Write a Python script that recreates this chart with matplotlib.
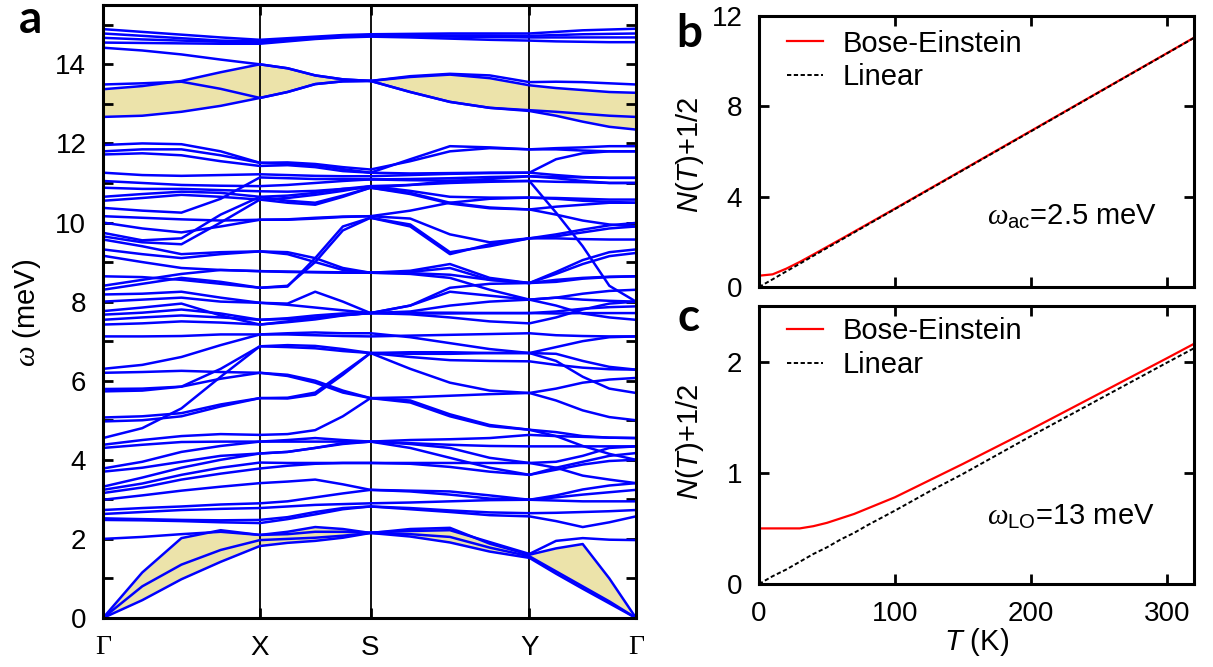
import numpy as np
import matplotlib.pyplot as plt

plt.rcParams['font.family'] = ['Liberation Sans', 'DejaVu Sans']
plt.rcParams['mathtext.fontset'] = 'custom'
plt.rcParams['mathtext.rm'] = 'Liberation Sans'
plt.rcParams['mathtext.it'] = 'Liberation Serif:italic'
plt.rcParams['mathtext.sf'] = 'Liberation Sans:italic'

# ---- panel a: phonon dispersion along Γ-X-S-Y-Γ ----
k_nodes = [0.0, 1.56, 2.66, 4.24, 5.30]
k_labels = ['Γ', 'X', 'S', 'Y', 'Γ']

# each band: 17 values, 5 per segment (node, 3 inner points), shared nodes
acoustic = [
    [0, 0.45, 0.98, 1.42, 1.82, 1.90, 1.95, 2.03, 2.15, 2.06, 1.91, 1.68, 1.52, 1.12, 0.74, 0.37, 0],
    [0, 0.80, 1.35, 1.72, 1.97, 2.00, 2.03, 2.08, 2.15, 2.12, 2.05, 1.78, 1.56, 1.18, 0.80, 0.42, 0],
    [0, 1.15, 2.02, 2.22, 2.10, 2.18, 2.30, 2.25, 2.15, 2.25, 2.28, 1.88, 1.60, 1.76, 1.87, 1.00, 0],
]
optical_low = [
    [2.00, 2.05, 2.12, 2.18, 2.10, 2.12, 2.18, 2.18, 2.16, 2.20, 2.22, 1.92, 1.62, 1.95, 2.02, 1.98, 1.97],
    [2.48, 2.47, 2.45, 2.42, 2.40, 2.50, 2.62, 2.75, 2.82, 2.75, 2.68, 2.60, 2.57, 2.45, 2.30, 2.42, 2.57],
    [2.52, 2.50, 2.48, 2.47, 2.48, 2.55, 2.68, 2.78, 2.82, 2.78, 2.72, 2.67, 2.65, 2.66, 2.68, 2.70, 2.73],
    [2.63, 2.68, 2.73, 2.76, 2.78, 2.82, 2.86, 2.88, 2.90, 2.92, 2.95, 2.98, 2.99, 2.97, 2.95, 2.95, 2.95],
    [2.73, 2.78, 2.82, 2.87, 2.90, 2.95, 3.05, 3.15, 3.24, 3.20, 3.12, 3.02, 2.99, 3.05, 3.12, 3.18, 3.24],
    [2.99, 3.10, 3.22, 3.32, 3.41, 3.45, 3.50, 3.38, 3.24, 3.22, 3.20, 3.10, 2.99, 3.10, 3.25, 3.35, 3.41],
    [3.16, 3.30, 3.50, 3.65, 3.78, 3.85, 3.90, 3.92, 3.92, 3.92, 3.92, 3.92, 3.92, 3.80, 3.60, 3.50, 3.41],
    [3.24, 3.40, 3.62, 3.80, 3.93, 3.92, 3.92, 3.92, 3.92, 3.90, 3.82, 3.70, 3.62, 3.80, 3.95, 4.10, 4.17],
    [3.32, 3.55, 3.80, 4.00, 4.16, 4.20, 4.30, 4.40, 4.46, 4.30, 4.05, 3.80, 3.62, 3.75, 3.88, 3.97, 4.00],
    [3.70, 3.80, 3.95, 4.10, 4.16, 4.20, 4.30, 4.42, 4.46, 4.42, 4.38, 4.35, 4.34, 4.34, 4.34, 4.34, 4.34],
    [3.78, 3.95, 4.20, 4.35, 4.46, 4.46, 4.46, 4.46, 4.46, 4.50, 4.52, 4.55, 4.63, 4.60, 4.58, 4.56, 4.55],
    [4.30, 4.38, 4.45, 4.46, 4.46, 4.50, 4.55, 4.50, 4.46, 4.40, 4.30, 4.05, 3.92, 3.95, 4.10, 4.30, 4.34],
    [4.38, 4.50, 4.60, 4.65, 4.63, 4.65, 4.75, 5.10, 5.56, 5.45, 5.10, 4.85, 4.76, 4.70, 4.60, 4.56, 4.55],
    [4.55, 4.80, 5.30, 6.10, 6.87, 6.85, 6.82, 6.75, 6.70, 6.72, 6.72, 6.70, 6.70, 6.85, 7.00, 7.10, 7.12],
    [4.97, 5.00, 5.10, 5.35, 5.56, 5.55, 5.65, 6.15, 6.70, 6.30, 5.95, 5.75, 5.69, 5.80, 5.95, 6.03, 6.07],
    [5.07, 5.10, 5.18, 5.40, 5.56, 5.57, 5.70, 6.20, 6.70, 6.60, 6.52, 6.50, 6.49, 6.40, 6.33, 6.29, 6.28],
    [5.73, 5.75, 5.85, 6.05, 6.20, 6.15, 6.00, 5.75, 5.56, 5.50, 5.15, 4.88, 4.76, 4.60, 4.35, 4.15, 4.00],
    [5.79, 5.80, 5.85, 6.30, 6.87, 6.90, 6.88, 6.80, 6.70, 6.68, 6.68, 6.70, 6.70, 6.50, 6.10, 5.80, 5.69],
    [6.20, 6.22, 6.25, 6.22, 6.20, 6.12, 5.95, 5.70, 5.56, 5.58, 5.62, 5.66, 5.69, 5.50, 5.25, 5.08, 5.00],
    [6.30, 6.40, 6.60, 6.90, 7.17, 7.17, 7.15, 7.13, 7.12, 7.14, 7.16, 7.18, 7.20, 7.15, 7.13, 7.12, 7.12],
    [7.12, 7.12, 7.13, 7.17, 7.17, 7.20, 7.22, 7.20, 7.20, 7.10, 6.95, 6.80, 6.70, 6.68, 6.50, 6.35, 6.28],
]
optical_mid = [
    [7.42, 7.45, 7.50, 7.47, 7.42, 7.48, 7.55, 7.65, 7.71, 7.72, 7.72, 7.71, 7.71, 7.70, 7.71, 7.71, 7.71],
    [7.54, 7.60, 7.65, 7.60, 7.54, 7.56, 7.60, 7.66, 7.71, 7.90, 8.25, 8.15, 8.05, 8.10, 8.20, 8.27, 8.30],
    [7.67, 7.72, 7.80, 7.70, 7.54, 7.58, 7.65, 7.70, 7.71, 7.90, 8.35, 8.45, 8.47, 8.50, 8.58, 8.62, 8.64],
    [7.76, 7.85, 7.95, 7.65, 7.42, 7.50, 7.58, 7.66, 7.71, 7.70, 7.70, 7.71, 7.71, 7.75, 7.82, 7.86, 7.88],
    [8.00, 8.05, 8.10, 8.00, 7.97, 7.95, 8.25, 8.00, 7.71, 7.75, 7.90, 8.00, 8.05, 7.90, 7.70, 7.60, 7.54],
    [8.18, 8.20, 8.25, 8.10, 7.97, 7.92, 7.85, 7.78, 7.71, 7.68, 7.60, 7.50, 7.45, 7.60, 7.80, 7.95, 8.00],
    [8.30, 8.45, 8.60, 8.50, 8.35, 8.40, 9.00, 9.80, 10.12, 9.95, 9.25, 9.40, 9.60, 9.70, 9.82, 9.93, 9.99],
    [8.40, 8.55, 8.70, 8.80, 8.77, 8.76, 8.75, 8.74, 8.73, 8.78, 8.95, 8.60, 8.47, 8.70, 8.95, 9.15, 9.23],
    [8.64, 8.62, 8.55, 8.45, 8.35, 8.38, 9.10, 9.90, 10.12, 9.90, 9.20, 9.45, 9.60, 9.60, 9.58, 9.57, 9.57],
    [9.16, 9.00, 8.85, 8.80, 8.77, 8.75, 8.74, 8.73, 8.73, 8.72, 8.68, 8.55, 8.47, 8.55, 8.60, 8.63, 8.64],
    [9.32, 9.20, 9.10, 9.20, 9.27, 9.25, 9.10, 8.85, 8.73, 8.75, 8.85, 8.55, 8.47, 8.75, 9.05, 9.25, 9.32],
    [9.57, 9.40, 9.20, 9.25, 9.27, 9.20, 9.00, 8.80, 8.73, 8.70, 8.60, 8.30, 8.05, 8.10, 8.05, 8.02, 8.00],
    [9.65, 9.50, 9.45, 10.00, 10.58, 10.50, 10.45, 10.65, 10.88, 10.75, 10.50, 10.38, 10.33, 10.40, 10.45, 10.50, 10.50],
    [9.74, 9.55, 9.60, 10.20, 10.65, 10.55, 10.50, 10.68, 10.88, 10.72, 10.48, 10.36, 10.33, 10.20, 10.05, 9.95, 9.90],
    [10.00, 9.85, 9.75, 9.90, 10.07, 10.07, 10.10, 10.14, 10.16, 10.30, 10.50, 10.60, 10.63, 10.62, 10.60, 10.58, 10.58],
    [10.16, 10.12, 10.08, 10.05, 10.07, 10.08, 10.12, 10.15, 10.16, 10.10, 9.70, 9.50, 9.60, 9.65, 9.75, 9.85, 9.90],
    [10.37, 10.30, 10.25, 10.60, 11.14, 11.12, 11.10, 11.10, 11.09, 11.07, 11.06, 11.05, 11.05, 10.25, 9.40, 8.40, 8.00],
    [10.55, 10.62, 10.70, 10.65, 10.58, 10.62, 10.70, 10.80, 10.92, 10.80, 10.65, 10.63, 10.63, 10.60, 10.55, 10.52, 10.50],
    [10.65, 10.72, 10.78, 10.75, 10.65, 10.68, 10.75, 10.85, 10.92, 10.95, 11.00, 11.03, 11.05, 11.03, 11.02, 11.00, 11.00],
    [10.88, 10.85, 10.85, 10.82, 10.79, 10.78, 10.80, 10.85, 10.88, 10.95, 11.05, 11.10, 11.17, 11.15, 11.14, 11.13, 11.13],
    [11.05, 11.00, 10.95, 10.93, 10.92, 10.95, 11.00, 11.05, 11.09, 11.10, 11.12, 11.15, 11.17, 11.12, 11.05, 11.00, 11.00],
    [11.26, 11.20, 11.18, 11.20, 11.22, 11.20, 11.18, 11.17, 11.17, 11.20, 11.23, 11.25, 11.26, 11.60, 11.75, 11.80, 11.80],
    [11.72, 11.75, 11.70, 11.55, 11.43, 11.45, 11.40, 11.30, 11.26, 11.24, 11.25, 11.26, 11.26, 11.20, 11.15, 11.13, 11.13],
    [11.80, 11.85, 11.85, 11.70, 11.51, 11.52, 11.48, 11.40, 11.34, 11.55, 11.80, 11.88, 11.85, 11.85, 11.82, 11.80, 11.80],
    [11.96, 12.00, 11.98, 11.80, 11.51, 11.48, 11.45, 11.35, 11.26, 11.60, 11.93, 11.90, 11.85, 11.88, 11.90, 11.93, 11.93],
]
optical_high = [
    [12.67, 12.70, 12.80, 12.95, 13.15, 13.30, 13.50, 13.57, 13.58, 13.30, 13.05, 12.90, 12.82, 12.70, 12.55, 12.42, 12.35],
    [13.49, 13.52, 13.56, 13.38, 13.15, 13.30, 13.50, 13.57, 13.58, 13.30, 13.05, 12.90, 12.84, 12.80, 12.75, 12.70, 12.67],
    [13.37, 13.45, 13.58, 13.80, 14.00, 13.90, 13.72, 13.62, 13.58, 13.68, 13.74, 13.65, 13.47, 13.40, 13.35, 13.30, 13.28],
    [14.42, 14.35, 14.25, 14.12, 14.00, 13.90, 13.72, 13.62, 13.58, 13.70, 13.76, 13.72, 13.55, 13.56, 13.55, 13.52, 13.49],
    [14.55, 14.54, 14.53, 14.52, 14.52, 14.58, 14.64, 14.68, 14.70, 14.68, 14.65, 14.62, 14.60, 14.58, 14.57, 14.56, 14.56],
    [14.67, 14.63, 14.60, 14.57, 14.55, 14.60, 14.66, 14.70, 14.72, 14.71, 14.70, 14.69, 14.68, 14.68, 14.68, 14.68, 14.68],
    [14.78, 14.72, 14.66, 14.60, 14.58, 14.63, 14.68, 14.72, 14.74, 14.74, 14.73, 14.73, 14.72, 14.74, 14.76, 14.77, 14.78],
    [14.89, 14.82, 14.75, 14.68, 14.62, 14.66, 14.70, 14.74, 14.76, 14.77, 14.78, 14.78, 14.78, 14.82, 14.86, 14.88, 14.90],
]

# ---- panels b, c: N(T)+1/2 ----
T_b = [0, 10, 20, 30, 40, 60, 80, 100, 150, 200, 250, 300, 320]
bose_b = [0.50, 0.56, 0.81, 1.11, 1.44, 2.11, 2.79, 3.47, 5.19, 6.91, 8.63, 10.35, 11.04]
linear_b = [0.00, 0.34, 0.69, 1.03, 1.38, 2.07, 2.76, 3.45, 5.17, 6.89, 8.62, 10.34, 11.03]

T_c = [0, 10, 20, 30, 40, 50, 60, 70, 80, 100, 125, 150, 200, 250, 300, 320]
bose_c = [0.50, 0.50, 0.50, 0.50, 0.52, 0.55, 0.59, 0.63, 0.68, 0.78, 0.93, 1.08, 1.39, 1.71, 2.03, 2.16]
linear_c = [0.00, 0.07, 0.13, 0.20, 0.27, 0.33, 0.40, 0.46, 0.53, 0.66, 0.83, 0.99, 1.33, 1.66, 1.99, 2.12]

W, H = 1213, 667
fig = plt.figure(figsize=(W / 100, H / 100), dpi=100)

def px_axes(left, top, right, bottom):
    return fig.add_axes([left / W, 1 - bottom / H, (right - left) / W, (bottom - top) / H])

ax_a = px_axes(103, 5, 636, 618)
ax_b = px_axes(759, 16, 1194, 287)
ax_c = px_axes(759, 306, 1194, 584)

fs = 20      # tick labels
fl = 21      # axis labels, legends, notes
blue = '#0000ff'
shade = '#ece3aa'

# k grid: 4 steps per segment
k = np.concatenate([np.linspace(k_nodes[i], k_nodes[i + 1], 5)[:-1] for i in range(4)] + [[k_nodes[-1]]])

ax_a.fill_between(k, acoustic[0], acoustic[2], color=shade, lw=0, zorder=1)
ax_a.fill_between(k, optical_high[0], optical_high[2], color=shade, lw=0, zorder=1)
for kx in k_nodes[1:-1]:
    ax_a.axvline(kx, color='black', lw=1.3, zorder=1.5)
for band in acoustic + optical_low + optical_mid + optical_high:
    ax_a.plot(k, band, color=blue, lw=1.8, solid_joinstyle='round', zorder=2)

ax_a.set_xlim(k_nodes[0], k_nodes[-1])
ax_a.set_ylim(0, 15.5)
ax_a.set_yticks(range(0, 15, 2))
ax_a.set_yticks(range(1, 16, 2), minor=True)
ax_a.set_xticks(k_nodes)
ax_a.set_xticklabels(k_labels)
for lab in ax_a.get_xticklabels():
    if lab.get_text() == 'Γ':
        lab.set_fontfamily('Liberation Serif')
        lab.set_fontsize(fs + 2)
ax_a.tick_params(which='both', direction='in', length=7, width=2, top=True, right=True,
                 labelsize=fs, pad=12)
fig.text(27 / W, 1 - 313 / H, r'$\omega$ (meV)', rotation=90, ha='center', va='center', fontsize=fl)

for ax in (ax_a, ax_b, ax_c):
    for sp in ax.spines.values():
        sp.set_linewidth(2.2)

legend_kw = dict(loc='upper left', frameon=False, fontsize=fl, handlelength=1.25,
                 handletextpad=0.65, labelspacing=0.2, borderpad=0, borderaxespad=0)

# panel b
ax_b.plot(T_b, bose_b, color='red', lw=1.6, label='Bose-Einstein')
ax_b.plot(T_b, linear_b, color='black', lw=1.4, ls=(0, (2.2, 1.3)), label='Linear')
ax_b.set_xlim(0, 320)
ax_b.set_ylim(0, 12)
ax_b.set_yticks([0, 4, 8, 12])
ax_b.set_xticks([0, 100, 200, 300])
ax_b.tick_params(direction='in', length=7, width=2, top=True, right=True, labelsize=fs, pad=12,
                 labelbottom=False)
ax_b.legend(bbox_to_anchor=(0.064, 0.95), **legend_kw)
ax_b.text(0.524, 0.258, r'$\omega_{\rm ac}$=2.5 meV', transform=ax_b.transAxes,
          ha='left', va='center', fontsize=fl)

# panel c
ax_c.plot(T_c, bose_c, color='red', lw=1.6, label='Bose-Einstein')
ax_c.plot(T_c, linear_c, color='black', lw=1.4, ls=(0, (2.2, 1.3)), label='Linear')
ax_c.set_xlim(0, 320)
ax_c.set_ylim(0, 2.5)
ax_c.set_yticks([0, 1, 2])
ax_c.set_xticks([0, 100, 200, 300])
ax_c.tick_params(direction='in', length=7, width=2, top=True, right=True, labelsize=fs, pad=12)
ax_c.legend(bbox_to_anchor=(0.064, 0.96), **legend_kw)
ax_c.text(0.524, 0.241, r'$\omega_{\rm LO}$=13 meV', transform=ax_c.transAxes,
          ha='left', va='center', fontsize=fl)
fig.text(977 / W, 1 - 642 / H, r'$\mathsf{T}$ (K)', ha='center', va='center', fontsize=fl)

for yc in (155, 442):
    fig.text(690 / W, 1 - yc / H, r'$\mathsf{N}$($\mathsf{T}$)+1/2', rotation=90,
             ha='center', va='center', fontsize=fl)

# panel letters
for letter, x, y in (('a', 30, 20), ('b', 689, 34), ('c', 689, 318)):
    fig.text(x / W, 1 - y / H, letter, fontsize=33, fontweight='bold', ha='center', va='center',
             family=['Lato', 'DejaVu Sans'])

fig.savefig('out.png', dpi=100)
